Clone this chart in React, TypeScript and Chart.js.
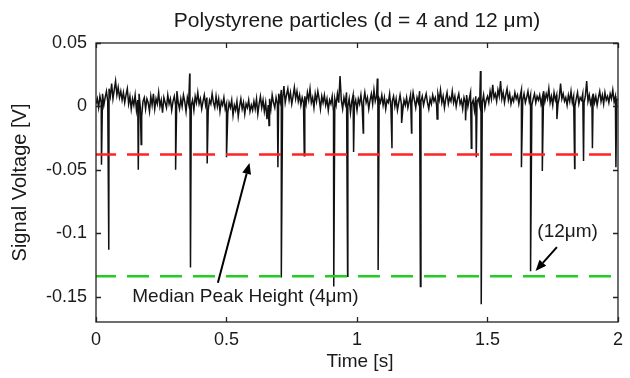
import React, { useEffect, useRef } from 'react';
import { Chart, registerables } from 'chart.js';

Chart.register(...registerables);

// ---------- text ----------
const TITLE = 'Polystyrene particles (d = 4 and 12 μm)';
const X_TITLE = 'Time [s]';
const Y_TITLE = 'Signal Voltage [V]';

// ---------- axes ----------
const X_MIN = 0;
const X_MAX = 2;
const Y_MIN = -0.17;
const Y_MAX = 0.05;
const X_TICKS = [0, 0.5, 1, 1.5, 2];
const X_TICK_LABELS = ['0', '0.5', '1', '1.5', '2'];
const Y_TICKS = [0.05, 0, -0.05, -0.1, -0.15];
const Y_TICK_LABELS = ['0.05', '0', '-0.05', '-0.1', '-0.15'];

// ---------- signal ----------
const SAMPLE_DT = 0.005; // s between baseline samples
// baseline signal in mV, one value per SAMPLE_DT
const BASELINE_MV = [
  2, 6, -1, 8, 3, 10, 1, 7, 12, 4, 14, 8, 18, 6, 13, 20, 9, 15, 7, 12,
  5, 11, 3, 9, 14, 2, 8, -2, 6, 1, 9, -3, 5, 10, -1, -8, 4, 7, -2, 6,
  3, -4, 8, 1, 10, -2, 6, 2, 11, 0, 5, -5, 7, 3, -1, 9, 2, 6, -3, 4,
  8, 1, 12, 3, -2, 6, 0, 9, 4, -4, 7, 2, 10, 1, 5, -3, 8, 3, 11, 2,
  6, -2, 4, 9, 1, 7, -3, 5, 2, 10, 3, -1, 8, 0, 6, -4, 4, 1, 7, -2,
  2, -5, 3, -1, 5, -7, 1, -3, 4, -8, 0, 6, -2, 3, -6, 2, -1, 5, -4, 1,
  -3, 4, -2, 6, -6, 2, 8, -1, 5, -4, 3, -10, 1, 6, -2, 9, 3, -1, 7, 2,
  10, 4, 13, 6, 16, 3, 9, 14, 5, 11, 2, 8, 15, 6, 12, 4, 9, 1, 7, 3,
  8, 2, 11, 5, 14, 3, 7, -1, 10, 4, 12, 6, -2, 8, 3, 9, 1, 6, -3, 5,
  2, 8, -4, 6, 1, 10, 3, 24, 5, -2, 7, 2, 11, 0, 6, -5, 4, 9, 1, 5,
  -3, 6, 2, 9, -1, 4, 11, 3, 7, -2, 5, 10, 2, 13, 4, 8, 0, 6, 3, 9,
  1, 7, -2, 5, 3, 10, -1, 4, 8, 0, 6, -3, 3, 9, 2, -4, 5, 1, 7, -1,
  4, 9, 2, 11, 5, -1, 7, 3, 12, 4, 8, 1, 6, 10, 3, -2, 6, 2, 9, 4,
  7, 1, 10, 5, 13, 3, 8, -1, 6, 11, 2, 7, 4, 12, 3, 8, 0, 6, 10, 2,
  5, -2, 7, 3, 9, 0, 6, 11, 2, 5, -3, 8, 4, 6, 1, 7, 3, 9, -1, 5,
  8, 3, 12, 6, 17, 7, 10, 4, 13, 8, 20, 6, 11, 3, 9, 14, 5, 10, 2, 7,
  4, 11, 6, 9, 2, 8, 13, 5, 10, 3, 7, 12, 4, 9, 1, 6, 10, 3, 8, 5,
  9, 2, 7, 12, 4, 10, 6, 14, 3, 8, 1, 11, 5, 9, 2, 7, 18, 6, 10, 4,
  7, 1, 9, 4, 12, 3, 8, 0, 6, 11, 2, 7, 5, 10, 3, 8, 20, 4, 9, 2,
  6, 10, 3, 8, 1, 7, 12, 4, 9, 2, 11, 5, 8, 3, 10, 6, 13, 4, 8, 5,
  6,
];

// particle peaks (downward spikes)
const PEAK_T = [
  0.021, 0.049, 0.162, 0.173, 0.305, 0.362, 0.426, 0.5, 0.663, 0.697,
  0.71, 0.798, 0.911, 0.964, 0.987, 1.024, 1.081, 1.134, 1.171, 1.209,
  1.243, 1.307, 1.416, 1.438, 1.457, 1.476, 1.63, 1.665, 1.71, 1.766,
  1.834, 1.868, 1.902, 1.992,
];
const PEAK_V = [
  -0.046, -0.113, -0.05, -0.03, -0.05, -0.127, -0.045, -0.04, -0.015, -0.048,
  -0.135, -0.039, -0.142, -0.134, -0.036, -0.021, -0.129, -0.033, -0.013, -0.021,
  -0.142, -0.01, -0.011, -0.033, -0.04, -0.156, -0.048, -0.13, -0.051, -0.01,
  -0.049, -0.043, -0.033, -0.048,
];
// small positive overshoots right before the big peaks
const OVERSHOOT_T = [0.359, 1.078, 1.473];
const OVERSHOOT_V = [0.026, 0.022, 0.028];

// median peak heights
const MEDIAN_4UM = -0.038;
const MEDIAN_12UM = -0.134;

// annotations (data coordinates)
const NOTE_TEXT = ['Median Peak Height (4μm)', '(12μm)'];
const NOTE_T = [0.139, 1.691];
const NOTE_V = [-0.150, -0.099];
const ARROW_FROM_T = [0.467, 1.766];
const ARROW_FROM_V = [-0.139, -0.111];
const ARROW_TO_T = [0.588, 1.684];
const ARROW_TO_V = [-0.0446, -0.1298];

const FONT = '"Liberation Sans", Arial, Helvetica, sans-serif';
const TEXT_COLOR = '#1a1a1a';

function buildSignal() {
  const pts: { x: number; y: number }[] = BASELINE_MV.map((mv, i) => ({
    x: +(i * SAMPLE_DT).toFixed(4),
    y: mv / 1000,
  }));
  PEAK_T.forEach((t, i) => pts.push({ x: t, y: PEAK_V[i] }));
  OVERSHOOT_T.forEach((t, i) => pts.push({ x: t, y: OVERSHOOT_V[i] }));
  pts.sort((a, b) => a.x - b.x);
  return pts;
}

const framePlugin = {
  id: 'frame',
  afterDraw(chart: any) {
    const { ctx, chartArea: a, scales } = chart;
    const xs = scales.x;
    const ys = scales.y;
    ctx.save();
    // box
    ctx.strokeStyle = '#222';
    ctx.lineWidth = 1.3;
    ctx.strokeRect(a.left, a.top, a.right - a.left, a.bottom - a.top);
    // inward ticks on all sides
    const TL = 5;
    ctx.beginPath();
    X_TICKS.forEach((v) => {
      const px = Math.round(xs.getPixelForValue(v)) + 0.5;
      ctx.moveTo(px, a.bottom);
      ctx.lineTo(px, a.bottom - TL);
      ctx.moveTo(px, a.top);
      ctx.lineTo(px, a.top + TL);
    });
    Y_TICKS.forEach((v) => {
      const py = Math.round(ys.getPixelForValue(v)) + 0.5;
      ctx.moveTo(a.left, py);
      ctx.lineTo(a.left + TL, py);
      ctx.moveTo(a.right, py);
      ctx.lineTo(a.right - TL, py);
    });
    ctx.stroke();

    // titles
    ctx.fillStyle = TEXT_COLOR;
    ctx.textAlign = 'center';
    ctx.textBaseline = 'middle';
    ctx.font = `21px ${FONT}`;
    ctx.fillText(TITLE, (a.left + a.right) / 2, 21);
    ctx.font = `19px ${FONT}`;
    ctx.fillText(X_TITLE, (a.left + a.right) / 2 + 3, 362);
    ctx.save();
    ctx.translate(20, (a.top + a.bottom) / 2);
    ctx.rotate(-Math.PI / 2);
    ctx.font = `20px ${FONT}`;
    ctx.fillText(Y_TITLE, 0, 0);
    ctx.restore();

    // annotations
    ctx.font = `19px ${FONT}`;
    ctx.textAlign = 'left';
    NOTE_TEXT.forEach((txt, i) => {
      ctx.fillText(txt, xs.getPixelForValue(NOTE_T[i]), ys.getPixelForValue(NOTE_V[i]));
    });
    ctx.strokeStyle = '#000';
    ctx.fillStyle = '#000';
    ctx.lineWidth = 2;
    ARROW_FROM_T.forEach((_, i) => {
      const x0 = xs.getPixelForValue(ARROW_FROM_T[i]);
      const y0 = ys.getPixelForValue(ARROW_FROM_V[i]);
      const x1 = xs.getPixelForValue(ARROW_TO_T[i]);
      const y1 = ys.getPixelForValue(ARROW_TO_V[i]);
      const ang = Math.atan2(y1 - y0, x1 - x0);
      const HL = 11;
      const HW = 4.5;
      const bx = x1 - HL * Math.cos(ang);
      const by = y1 - HL * Math.sin(ang);
      ctx.beginPath();
      ctx.moveTo(x0, y0);
      ctx.lineTo(bx, by);
      ctx.stroke();
      ctx.beginPath();
      ctx.moveTo(x1, y1);
      ctx.lineTo(bx + HW * Math.sin(ang), by - HW * Math.cos(ang));
      ctx.lineTo(bx - HW * Math.sin(ang), by + HW * Math.cos(ang));
      ctx.closePath();
      ctx.fill();
    });
    ctx.restore();
  },
};

export default function App() {
  const ref = useRef<HTMLCanvasElement | null>(null);

  useEffect(() => {
    const prevMargin = document.body.style.margin;
    document.body.style.margin = '0';
    if (!ref.current) return;
    const signal = buildSignal();
    const chart = new Chart(ref.current, {
      type: 'line',
      data: {
        datasets: [
          {
            label: 'Signal',
            data: signal,
            borderColor: '#111',
            borderWidth: 1.5,
            pointRadius: 0,
            tension: 0,
            order: 2,
          },
          {
            label: 'Median 4 μm',
            data: [
              { x: X_MIN, y: MEDIAN_4UM },
              { x: X_MAX, y: MEDIAN_4UM },
            ],
            borderColor: '#ff2424',
            borderWidth: 2.5,
            borderDash: [22, 11],
            borderDashOffset: 2,
            pointRadius: 0,
            order: 1,
          },
          {
            label: 'Median 12 μm',
            data: [
              { x: X_MIN, y: MEDIAN_12UM },
              { x: X_MAX, y: MEDIAN_12UM },
            ],
            borderColor: '#22cc22',
            borderWidth: 2.5,
            borderDash: [22, 11],
            borderDashOffset: 2,
            pointRadius: 0,
            order: 0,
          },
        ],
      },
      options: {
        animation: false,
        responsive: true,
        maintainAspectRatio: false,
        layout: { padding: { left: 0, right: 3, top: 43, bottom: 0 } },
        plugins: {
          legend: { display: false },
          title: { display: false },
          tooltip: { enabled: false },
        },
        scales: {
          x: {
            type: 'linear',
            min: X_MIN,
            max: X_MAX,
            grid: { display: false, drawTicks: false },
            border: { display: false },
            afterBuildTicks: (s: any) => {
              s.ticks = X_TICKS.map((v) => ({ value: v }));
            },
            afterFit: (s: any) => {
              s.height = 56;
            },
            ticks: {
              autoSkip: false,
              maxRotation: 0,
              padding: 7,
              color: TEXT_COLOR,
              font: { family: FONT, size: 18 },
              callback: (v: any) => {
                const i = X_TICKS.findIndex((t) => Math.abs(t - v) < 1e-9);
                return i >= 0 ? X_TICK_LABELS[i] : '';
              },
            },
          },
          y: {
            type: 'linear',
            min: Y_MIN,
            max: Y_MAX,
            grid: { display: false, drawTicks: false },
            border: { display: false },
            afterBuildTicks: (s: any) => {
              s.ticks = Y_TICKS.map((v) => ({ value: v }));
            },
            afterFit: (s: any) => {
              s.width = 96;
            },
            ticks: {
              autoSkip: false,
              padding: 9,
              color: TEXT_COLOR,
              font: { family: FONT, size: 18 },
              callback: (v: any) => {
                const i = Y_TICKS.findIndex((t) => Math.abs(t - v) < 1e-9);
                return i >= 0 ? Y_TICK_LABELS[i] : '';
              },
            },
          },
        },
      },
      plugins: [framePlugin],
    });
    return () => {
      chart.destroy();
      document.body.style.margin = prevMargin;
    };
  }, []);

  return (
    <div style={{ position: 'relative', width: 630, height: 378, background: '#fff' }}>
      <canvas ref={ref} />
    </div>
  );
}
